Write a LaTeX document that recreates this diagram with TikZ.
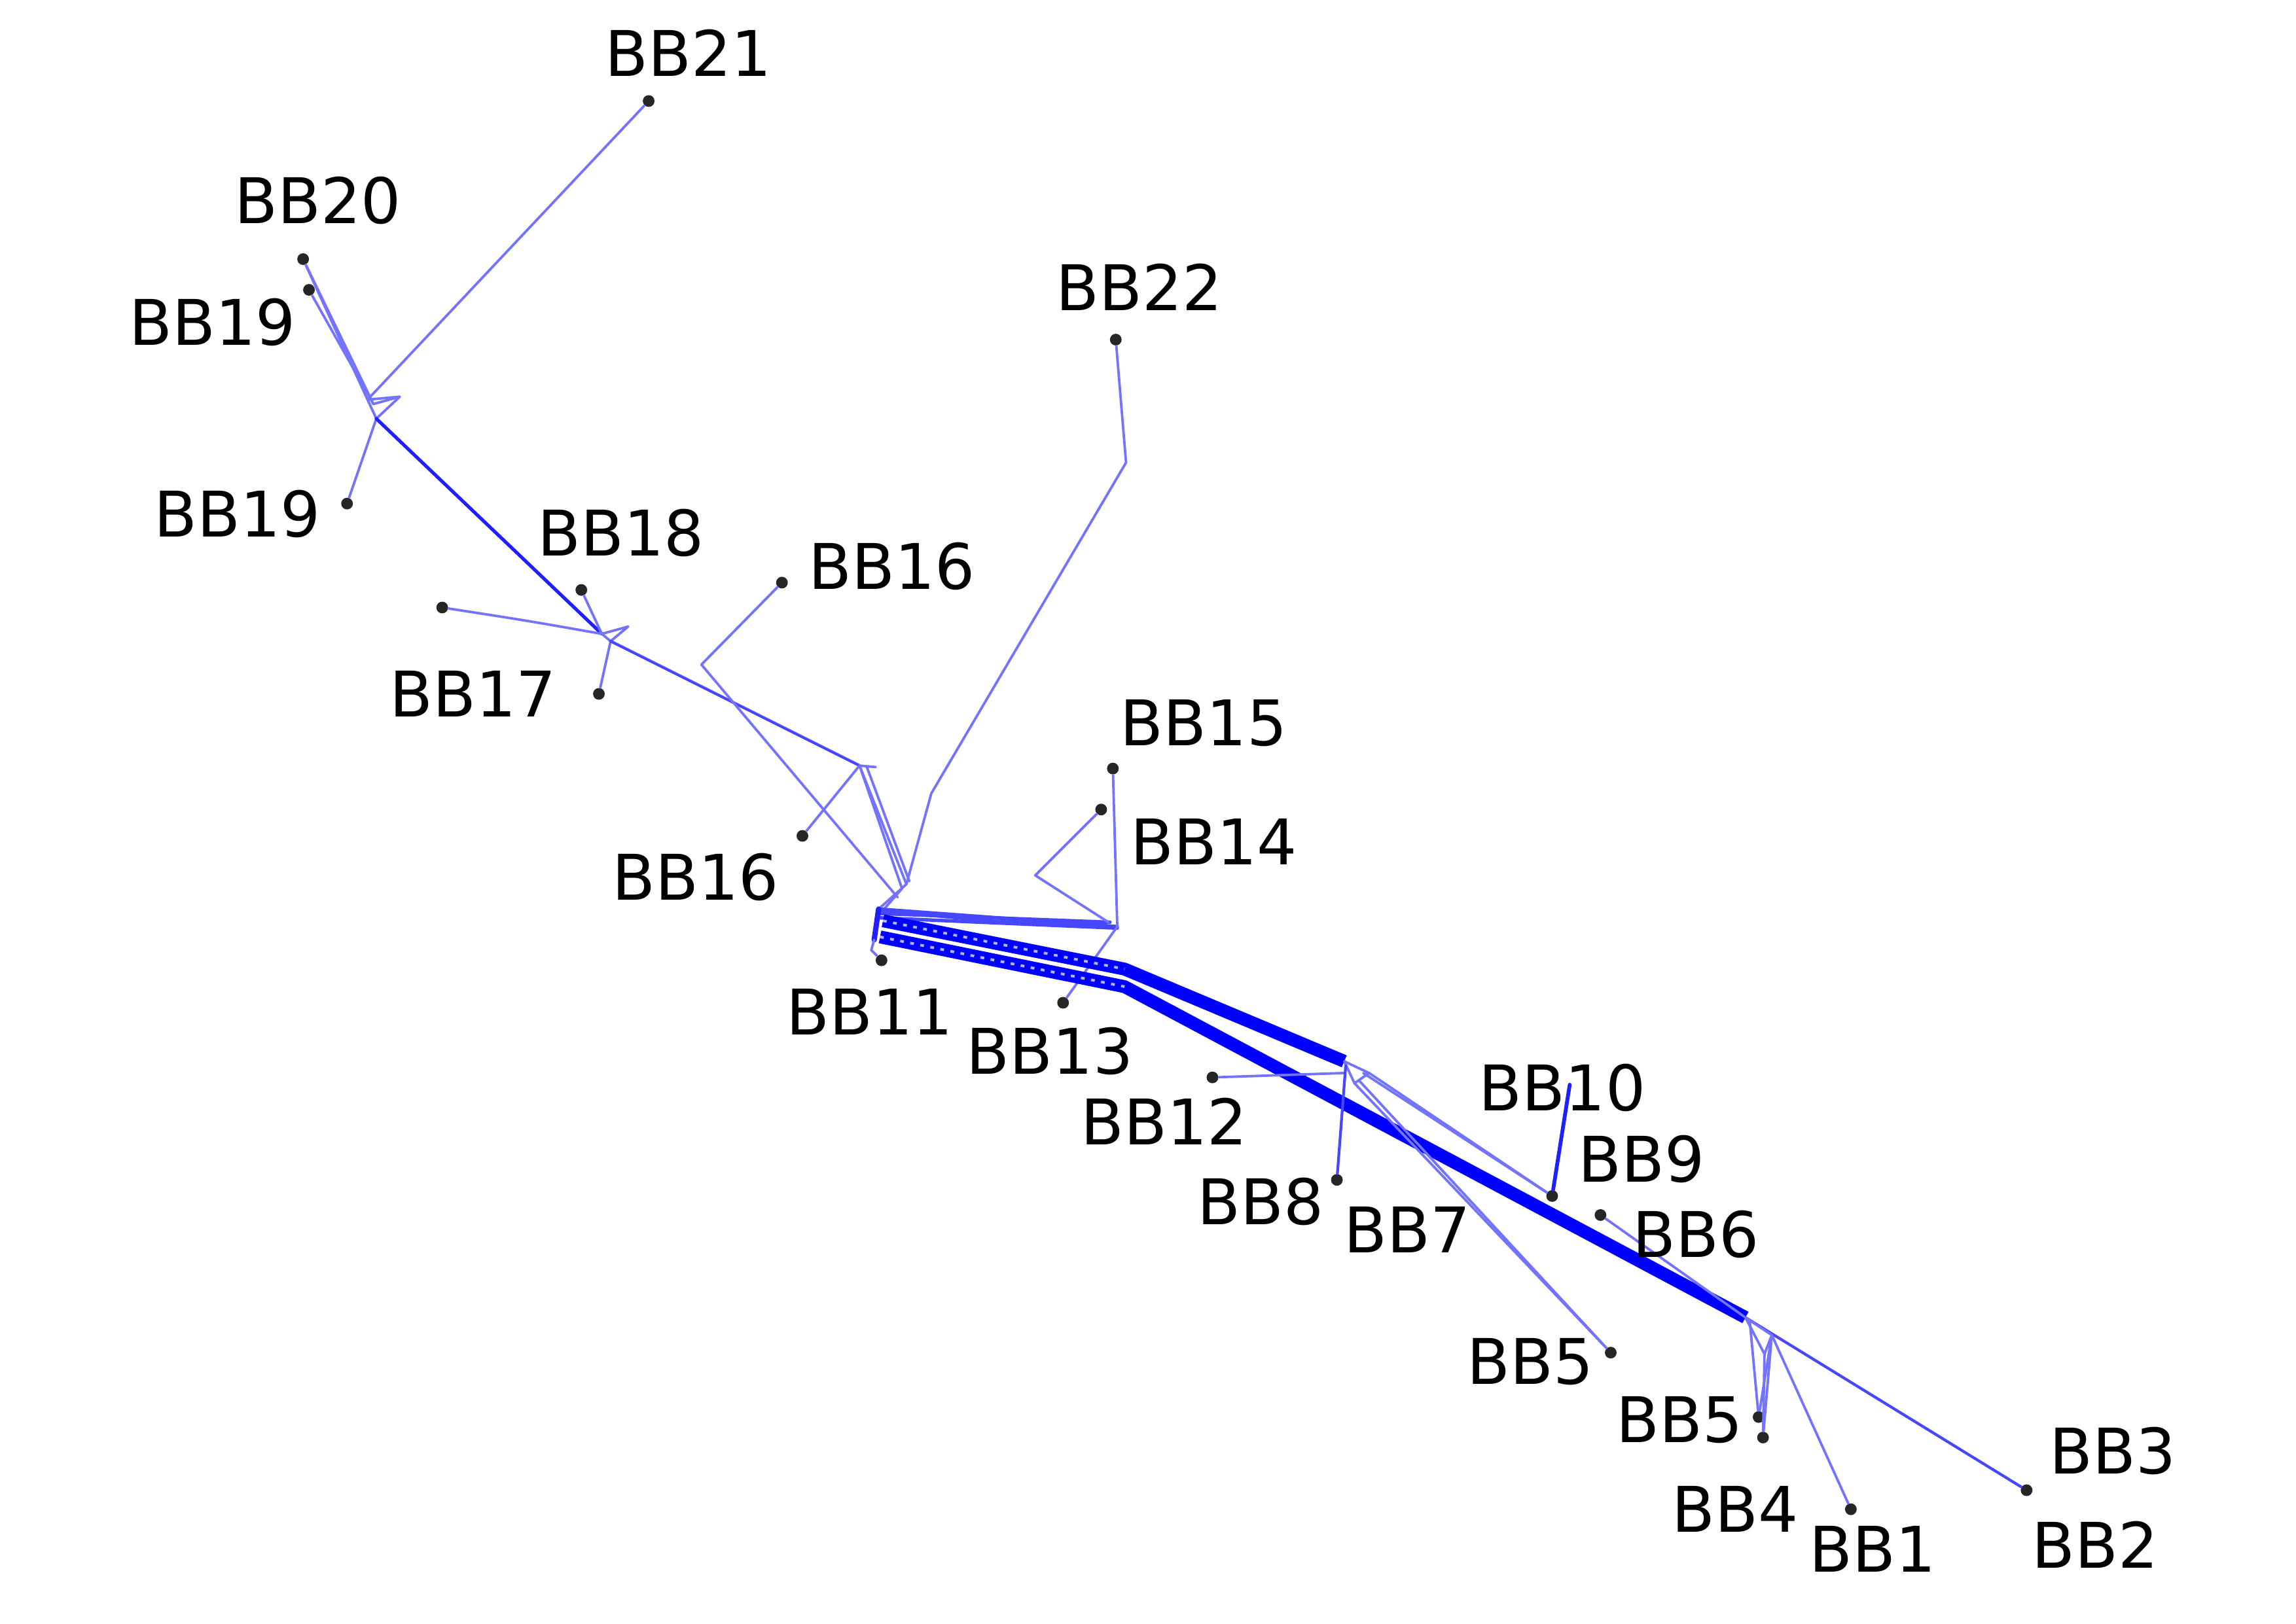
\documentclass[tikz,border=0pt]{standalone}
\usepackage{fontspec}
\setmainfont{DejaVu Sans}
\begin{document}
\begin{tikzpicture}[x=0.5pt,y=-0.5pt,
 thinl/.style={draw=blue!55, line width=0.85pt, line join=round, line cap=round},
 midl/.style={draw=blue!72, line width=0.95pt, line join=round, line cap=round},
 medl/.style={draw=blue!88, line width=1.15pt, line join=round, line cap=round},
 bandl/.style={draw=blue, line width=4.4pt, line join=round},
 hatch/.style={draw=white, line width=0.9pt, dash pattern=on 1.3pt off 2.2pt, opacity=0.7},
 dotn/.style={circle, fill=black!85, inner sep=0pt, minimum size=4pt},
 lbl/.style={inner sep=0pt, font=\fontsize{21.5}{25}\selectfont}]
\useasboundingbox (0,0) rectangle (1568,1109);

% ---------- dots ----------
\node[dotn] (d21) at (443,69) {};
\node[dotn] (d20) at (207,177) {};
\node[dotn] (d19a) at (211,198) {};
\node[dotn] (d19b) at (237,344) {};
\node[dotn] (d22) at (762,232) {};
\node[dotn] (d18) at (397,403) {};
\node[dotn] (d17a) at (302,415) {};
\node[dotn] (d17b) at (409,474) {};
\node[dotn] (d16a) at (534,398) {};
\node[dotn] (d16b) at (548,571) {};
\node[dotn] (d15) at (760,525) {};
\node[dotn] (d14) at (752,553) {};
\node[dotn] (d11) at (602,656) {};
\node[dotn] (d13) at (726,685) {};
\node[dotn] (d12) at (828,736) {};
\node[dotn] (d8) at (913,806) {};
\node[dotn] (d9) at (1060,817) {};
\node[dotn] (d6) at (1093,830) {};
\node[dotn] (d5a) at (1100,924) {};
\node[dotn] (d5b) at (1201,968) {};
\node[dotn] (d4) at (1204,982) {};
\node[dotn] (d1) at (1264,1031) {};
\node[dotn] (d2) at (1384,1018) {};

% ---------- junction coordinates ----------
\coordinate (a1) at (251,273);
\coordinate (a1b) at (255,276);
\coordinate (a2) at (273,271);
\coordinate (a3) at (257,286);
\coordinate (b1) at (411,433);
\coordinate (b2) at (429,428);
\coordinate (b3) at (417,438);
\coordinate (c1) at (587,523);
\coordinate (c2) at (598,524);
\coordinate (e1) at (479,454);
\coordinate (f1) at (769,316);
\coordinate (f2) at (636,542);
\coordinate (cq) at (619,604);
\coordinate (cc) at (600,621);
\coordinate (g) at (763,633);
\coordinate (h) at (707,598);
\coordinate (k1) at (918,725);
\coordinate (k2) at (935,733);
\coordinate (k3) at (925,740);
\coordinate (k4) at (918,733);
\coordinate (m) at (1072,741);
\coordinate (u1) at (768,662);
\coordinate (u0) at (603,629);
\coordinate (w0) at (601,640);
\coordinate (w1) at (768,674);
\coordinate (n1) at (1192,900);
\coordinate (n2) at (1210,912);
\coordinate (n3) at (1205,925);

% ---------- upper left ----------
\draw[thinl] (a1) -- (a2) -- (a3) -- cycle;
\draw[thinl] (a1b) -- (a2);
\draw[thinl] (d21) -- (a1);
\draw[thinl] (d20) -- (a1);
\draw[thinl] (d20) -- (a1b);
\draw[thinl] (d19a) -- (a1b);
\draw[thinl] (d19b) -- (a3);
\draw[medl] (a3) -- (b1);

\draw[thinl] (b1) -- (b2) -- (b3) -- cycle;
\draw[thinl] (d18) -- (b1);
\draw[thinl] (d17a) .. controls (360,424) .. (b1);
\draw[thinl] (d17b) -- (b3);
\draw[midl] (b3) -- (c1);
\draw[thinl] (c1) -- (c2);
\draw[thinl] (d16b) -- (c1);
\draw[thinl] (c1) -- ([shift={(-3,3)}]cq);
\draw[thinl] (c1) -- (cq);
\draw[thinl] ([shift={(5,1)}]c1) -- ([shift={(2,-2)}]cq);
\draw[thinl] (d16a) -- (e1) -- ([shift={(-6,9)}]cq);
\draw[thinl] (d22) -- (f1) -- (f2) -- (cq);
\draw[thinl] (cq) -- (cc);
\draw[thinl] ([shift={(-3,3)}]cq) -- ([shift={(2,2)}]cc);

% ---------- centre ----------
\draw[midl, line width=1.2pt] (cc) -- (g);
\draw[midl, line width=1.2pt] ([shift={(0,3)}]cc) -- ([shift={(-5,-3)}]g);
\draw[midl, line width=1.2pt] ([shift={(1,6)}]cc) -- ([shift={(0,1)}]g);
\draw[midl] ([shift={(2,1)}]cc) .. controls (680,630) .. ([shift={(-8,-2)}]g);
\draw[thinl] (d15) -- (g);
\draw[thinl] (d14) -- (h) -- ([shift={(-6,-3)}]g);
\draw[thinl] (g) -- (d13);
\draw[medl, line width=1.8pt] (cc) -- ([shift={(-3,21)}]cc);
\draw[thinl] ([shift={(-3,21)}]cc) -- ([shift={(-5,28)}]cc) -- (d11);

\draw[bandl] (u0) -- (u1) -- (k1);
\draw[hatch] (u0) -- (u1);
\draw[bandl] (w0) -- (w1) -- (n1);
\draw[hatch] (w0) -- (w1);

% ---------- J7 ----------
\draw[thinl] (k1) -- (k2) -- (k3) -- cycle;
\draw[thinl] (d12) -- (k4);
\draw[midl] (d8) -- ([shift={(1,3)}]k1);
\draw[thinl] ([shift={(-4,0)}]k2) -- (d9);
\draw[thinl] (k2) -- ([shift={(3,0)}]d9);
\draw[thinl] (k3) -- (d5a);
\draw[thinl] ([shift={(3,-2)}]k3) -- (d5a);
\draw[medl, line width=1.3pt] (m) -- (d9);

% ---------- J2 ----------
\draw[thinl] (d6) -- (n1);
\draw[midl] (n1) -- (d2);
\draw[thinl] (n1) -- (n3) -- (n2) -- cycle;
\draw[thinl] ([shift={(3,3)}]n1) -- (d5b);
\draw[thinl] (n2) -- (d5b);
\draw[thinl] (n2) -- (d4);
\draw[thinl] (n2) -- (d1);
\draw[thinl] (n3) -- (d4);

% ---------- labels ----------
\node[lbl] (l21) at (470,36) {BB21};
\node[lbl] (l20) at (217,137) {BB20};
\node[lbl] (l19a) at (145,220) {BB19};
\node[lbl] (l19b) at (162,351) {BB19};
\node[lbl] (l22) at (778,196) {BB22};
\node[lbl] (l18) at (424,364) {BB18};
\node[lbl] (l16a) at (609,387) {BB16};
\node[lbl] (l17) at (323,474) {BB17};
\node[lbl] (l15) at (822,494) {BB15};
\node[lbl] (l14) at (829,575) {BB14};
\node[lbl] (l16b) at (475,599) {BB16};
\node[lbl] (l11) at (594,691) {BB11};
\node[lbl] (l13) at (717,718) {BB13};
\node[lbl] (l10) at (1067,743) {BB10};
\node[lbl] (l12) at (795,766) {BB12};
\node[lbl] (l8) at (861,821) {BB8};
\node[lbl] (l7) at (961,840) {BB7};
\node[lbl] (l9) at (1121,792) {BB9};
\node[lbl] (l6) at (1158,843) {BB6};
\node[lbl] (l5a) at (1045,930) {BB5};
\node[lbl] (l5b) at (1147,970) {BB5};
\node[lbl] (l3) at (1443,991) {BB3};
\node[lbl] (l4) at (1185,1031) {BB4};
\node[lbl] (l1) at (1279,1058) {BB1};
\node[lbl] (l2) at (1431,1055) {BB2};
\end{tikzpicture}
\end{document}
